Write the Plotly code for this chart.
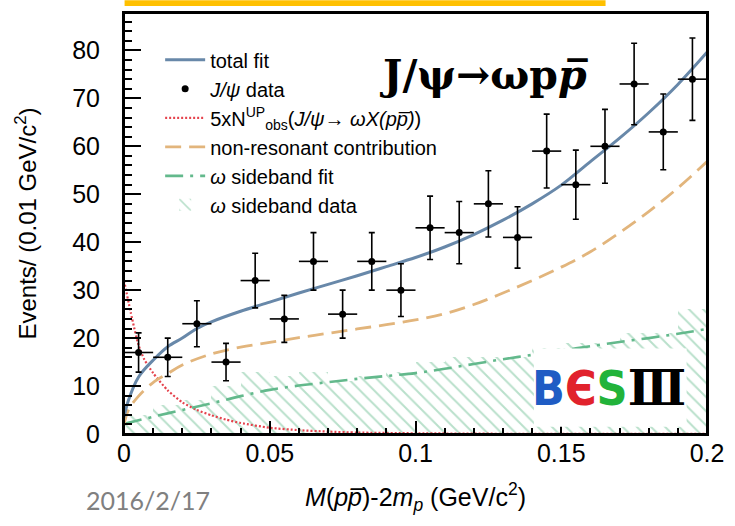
import plotly.graph_objects as go

# ---------------- data ----------------
bin_centers = [0.005, 0.015, 0.025, 0.035, 0.045, 0.055, 0.065, 0.075, 0.085, 0.095,
               0.105, 0.115, 0.125, 0.135, 0.145, 0.155, 0.165, 0.175, 0.185, 0.195]
events = [17, 16, 23, 15, 32, 24, 36, 25, 36, 30, 43, 42, 48, 41, 59, 52, 60, 73, 63, 74]
events_err = [4.1, 4.0, 4.8, 3.9, 5.7, 4.9, 6.0, 5.0, 6.0, 5.5,
              6.6, 6.5, 6.9, 6.4, 7.7, 7.2, 7.7, 8.5, 7.9, 8.6]
bin_halfwidth = [0.005] * 20
sideband_data = [4, 6, 7, 10, 13, 12, 13, 11, 12, 13, 15, 16, 16, 16, 18, 19, 19, 21, 21, 26]

total_fit_x = [0, 0.0015, 0.005, 0.0105, 0.015, 0.02, 0.025, 0.03, 0.04, 0.05, 0.06, 0.07,
               0.08, 0.09, 0.1, 0.11, 0.12, 0.13, 0.14, 0.15, 0.16, 0.17, 0.18, 0.19, 0.2]
total_fit_y = [3.5, 7.0, 11.9, 15.7, 18.2, 20.0, 22.0, 23.4, 25.6, 27.5, 29.4, 31.2,
               33.0, 34.9, 36.8, 39.0, 41.6, 44.6, 48.0, 51.9, 56.8, 61.7, 67.0, 72.9, 79.6]

nonres_x = [0, 0.0015, 0.005, 0.0105, 0.015, 0.02, 0.03, 0.04, 0.05, 0.06, 0.07, 0.08,
            0.09, 0.1, 0.11, 0.12, 0.13, 0.14, 0.15, 0.16, 0.17, 0.18, 0.19, 0.2]
nonres_y = [1.9, 5.0, 7.9, 11.0, 12.6, 14.4, 16.7, 18.1, 19.1, 20.1, 21.0, 21.9,
            22.8, 23.8, 25.1, 27.0, 29.4, 32.0, 34.8, 38.0, 42.0, 46.4, 51.3, 56.8]

upper_x = [0, 0.0028, 0.005, 0.007, 0.01, 0.015, 0.02, 0.025, 0.03, 0.035, 0.04, 0.05,
           0.06, 0.07, 0.08, 0.1, 0.13, 0.2]
upper_y = [32.0, 24.0, 18.5, 15.5, 12.7, 9.1, 6.6, 5.0, 3.9, 3.0, 2.3, 1.3,
           0.8, 0.5, 0.3, 0.15, 0.05, 0.02]

sbfit_x = [0, 0.01, 0.02, 0.03, 0.04, 0.05, 0.06, 0.07, 0.08, 0.09, 0.1, 0.11,
           0.12, 0.13, 0.14, 0.15, 0.16, 0.17, 0.18, 0.19, 0.2]
sbfit_y = [2.1, 3.6, 5.0, 6.4, 7.9, 9.2, 10.1, 10.8, 11.5, 12.1, 12.7, 13.6,
           14.6, 15.6, 16.5, 17.4, 18.3, 19.2, 20.0, 20.9, 21.9]

x_range = [0, 0.2]
y_range = [0, 87.8]

# ---------------- styles ----------------
FONT = "Liberation Sans, Arial, sans-serif"
BLUE = "#6888a9"
ORANGE = "#e2b57c"
RED = "#e5434d"
GREEN = "#63b98c"
HATCH = "#74c197"

fig = go.Figure()

fig.add_trace(go.Bar(
    x=bin_centers, y=sideband_data, width=0.01,
    marker=dict(color="rgba(0,0,0,0)", line=dict(width=0),
                pattern=dict(shape="\\", fgcolor=HATCH, bgcolor="rgba(0,0,0,0)",
                             size=10, solidity=0.2, fillmode="overlay")),
    name="<i>ω</i> sideband data", legendrank=6, legendgroup="g6",
))
fig.add_trace(go.Scatter(
    x=upper_x, y=upper_y, mode="lines", line=dict(color=RED, width=2.2, dash="2px,2px", shape="spline", smoothing=0.6),
    name="5xN<sup>UP</sup><sub>obs</sub>(<i>J/ψ→ ωX(pp̅)</i>)", legendrank=3, legendgroup="g3",
))
fig.add_trace(go.Scatter(
    x=sbfit_x, y=sbfit_y, mode="lines", line=dict(color=GREEN, width=2.6, dash="18px,7px,3px,7px", shape="spline"),
    name="<i>ω</i> sideband fit", legendrank=5, legendgroup="g5",
))
fig.add_trace(go.Scatter(
    x=nonres_x, y=nonres_y, mode="lines", line=dict(color=ORANGE, width=2.8, dash="16px,8px", shape="spline"),
    name="non-resonant contribution", legendrank=4, legendgroup="g4",
))
fig.add_trace(go.Scatter(
    x=total_fit_x, y=total_fit_y, mode="lines", line=dict(color=BLUE, width=3, shape="spline"),
    name="total fit", legendrank=1, legendgroup="g1",
))
fig.add_trace(go.Scatter(
    x=bin_centers, y=events, mode="markers",
    marker=dict(color="black", size=7),
    error_y=dict(type="data", array=events_err, color="black", thickness=1.6, width=3),
    error_x=dict(type="data", array=bin_halfwidth, color="black", thickness=1.6, width=0),
    name="<i>J/ψ</i> data", legendrank=2, legendgroup="g2",
))

axis_common = dict(
    showline=True, linecolor="black", linewidth=2, mirror=True,
    ticks="inside", tickcolor="black", tickwidth=1.6,
    showgrid=False, zeroline=False,
    tickfont=dict(family=FONT, size=25, color="black"),
)

fig.update_xaxes(
    range=x_range, tick0=0, dtick=0.05, ticklen=13,
    minor=dict(dtick=0.01, ticks="inside", ticklen=6, tickcolor="black", tickwidth=1.6),
    ticklabelstandoff=-4,
    title=dict(text="<i>M</i>(<i>pp̅</i>)-2<i>m</i><sub><i>p</i></sub> (GeV/c<sup>2</sup>)",
               font=dict(family=FONT, size=25, color="black"), standoff=22),
    **axis_common,
)
fig.update_yaxes(
    range=y_range, tick0=0, dtick=10, ticklen=17,
    minor=dict(dtick=2, ticks="inside", ticklen=8, tickcolor="black", tickwidth=1.6),
    ticklabelstandoff=17,
    title=dict(text="Events/ (0.01 GeV/c<sup>2</sup>)",
               font=dict(family=FONT, size=24, color="black"), standoff=29),
    **axis_common,
)

fig.update_layout(
    width=735, height=526,
    margin=dict(l=124, r=19, t=11, b=92),
    paper_bgcolor="white", plot_bgcolor="white",
    bargap=0, barmode="overlay",
    showlegend=True,
    legend=dict(x=0.062, y=0.935, xanchor="left", yanchor="top",
                bgcolor="rgba(0,0,0,0)", borderwidth=0,
                font=dict(family=FONT, size=20, color="black"),
                itemwidth=40, traceorder="grouped", tracegroupgap=0),
)

# plot frame
fig.add_shape(type="rect", xref="paper", yref="paper", x0=0, x1=1, y0=0, y1=1,
              line=dict(color="black", width=2), fillcolor="rgba(0,0,0,0)", layer="above")

# yellow bar on top
fig.add_shape(type="rect", xref="paper", yref="paper", x0=0.001, x1=0.826, y0=1.0165, y1=1.03,
              fillcolor="#FFC000", line=dict(width=0), layer="above")

# BESIII logo box
fig.add_shape(type="rect", xref="paper", yref="paper", x0=0.703, x1=0.965, y0=0.017, y1=0.203,
              fillcolor="white", line=dict(width=0), layer="above")
fig.add_annotation(
    xref="paper", yref="paper", x=0.832, y=0.11, xanchor="center", yanchor="middle",
    showarrow=False,
    text=("<b><span style=\"color:#1f5cc4\">B</span><span style=\"color:#e1222c\">Є</span>"
          "<span style=\"color:#22b33a\">S</span></b>"
          "<b><span style=\"color:black;font-family:DejaVu Serif\">Ⅲ</span></b>"),
    font=dict(family="DejaVu Sans Condensed, DejaVu Sans, sans-serif", size=48),
)

# channel label
fig.add_annotation(
    xref="paper", yref="paper", x=(382 - 124) / 592, y=(434 - 73) / 423,
    xanchor="left", yanchor="middle", showarrow=False,
    text="<b>J/ψ→ωp<i>p̅</i></b>",
    font=dict(family="DejaVu Serif, serif", size=41, color="black"),
)

# date footer
fig.add_annotation(
    xref="paper", yref="paper", x=(148 - 124) / 592, y=(434 - 500) / 423,
    xanchor="center", yanchor="middle", showarrow=False,
    text="2016/2/17",
    font=dict(family="Lato, sans-serif", size=25, color="#808080"),
)

fig.write_html("out.html")
